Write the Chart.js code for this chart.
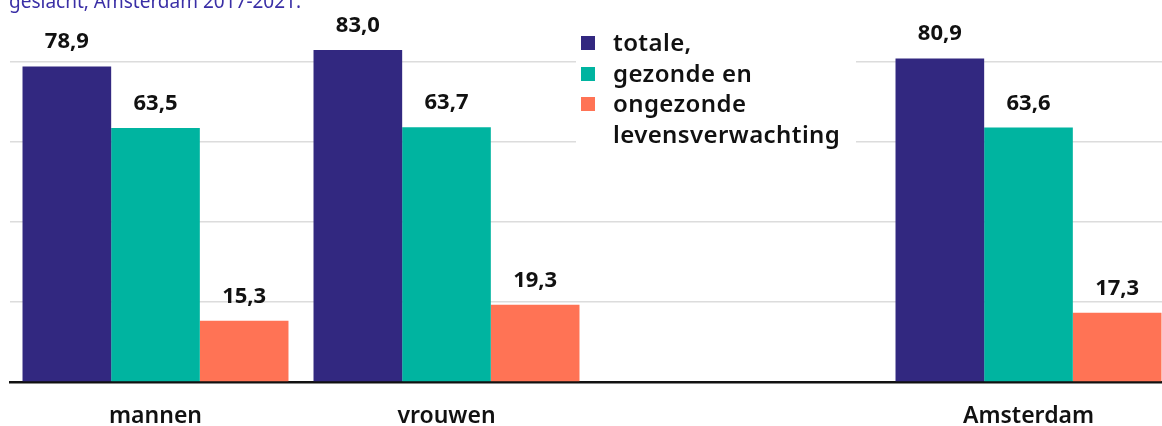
<!DOCTYPE html>
<html>
<head>
<meta charset="utf-8">
<script src="https://cdn.jsdelivr.net/npm/chart.js@4.4.1/dist/chart.umd.min.js"></script>
<style>
  html, body { margin: 0; padding: 0; background: #fff; overflow: hidden; }
  body { width: 1162px; height: 426px; position: relative; font-family: "Noto Sans", sans-serif; }
  #wrap { position: absolute; left: 0; top: 0; width: 1174px; height: 426px; }
  #title { position: absolute; left: 9px; top: -8px; font-size: 19px; line-height: 19px; color: #3a2fa6; white-space: nowrap; }
  #legend { position: absolute; left: 576px; top: 27px; width: 280px; background: #fff; padding: 0 0 4px 0; }
  .item { position: relative; height: 30.5px; line-height: 30px; font-size: 24px; font-weight: 600; color: #111; padding-left: 37px; letter-spacing: 0.4px; }
  .sw { position: absolute; left: 5px; top: 9px; width: 14px; height: 14px; }
</style>
</head>
<body>
<div id="wrap"><canvas id="c"></canvas></div>
<div id="title">geslacht, Amsterdam 2017-2021.</div>
<div id="legend"></div>
<script>
const categories = ["mannen", "vrouwen", "", "Amsterdam"];
const seriesNames = ["totale,", "gezonde en", "ongezonde"];
const legendExtra = "levensverwachting";
const totale = [78.9, 83.0, null, 80.9];
const gezonde = [63.5, 63.7, null, 63.6];
const ongezonde = [15.3, 19.3, null, 17.3];
const colors = ["#322880", "#00b4a0", "#ff7355"];

const legend = document.getElementById("legend");
seriesNames.forEach((name, i) => {
  legend.innerHTML += `<div class="item"><span class="sw" style="background:${colors[i]}"></span>${name}</div>`;
});
legend.innerHTML += `<div class="item">${legendExtra}</div>`;

const valueLabels = {
  id: "valueLabels",
  afterDatasetsDraw(chart) {
    const ctx = chart.ctx;
    ctx.save();
    ctx.font = "bold 22px 'Noto Sans', sans-serif";
    ctx.fillStyle = "#111";
    ctx.textAlign = "center";
    ctx.textBaseline = "alphabetic";
    chart.data.datasets.forEach((ds, i) => {
      chart.getDatasetMeta(i).data.forEach((bar, j) => {
        const v = ds.data[j];
        if (v == null) return;
        ctx.fillText(v.toFixed(1).replace(".", ","), bar.x, bar.y - 18);
      });
    });
    ctx.restore();
  }
};

new Chart(document.getElementById("c"), {
  type: "bar",
  data: {
    labels: categories,
    datasets: [totale, gezonde, ongezonde].map((d, i) => ({
      label: seriesNames[i],
      data: d,
      backgroundColor: colors[i],
      barPercentage: 1,
      categoryPercentage: 0.914
    }))
  },
  options: {
    responsive: true,
    maintainAspectRatio: false,
    animation: false,
    layout: { padding: { left: 10, right: 0, top: 22, bottom: 0 } },
    plugins: { legend: { display: false }, tooltip: { enabled: false } },
    scales: {
      x: {
        afterFit: s => { s.height = 44; },
        grid: { display: false, drawTicks: false },
        border: { color: "#111", width: 2.5 },
        ticks: { color: "#111", padding: 21, font: { family: "'Noto Sans', sans-serif", size: 23, weight: 600 } }
      },
      y: {
        min: 0,
        max: 90,
        afterBuildTicks: s => { s.ticks = s.ticks.filter(t => t.value % 20 === 0); },
        ticks: { display: false, stepSize: 20 },
        grid: { color: "#dcdcdc", lineWidth: 1.5, drawTicks: false },
        border: { display: false }
      }
    }
  },
  plugins: [valueLabels]
});
</script>
</body>
</html>
